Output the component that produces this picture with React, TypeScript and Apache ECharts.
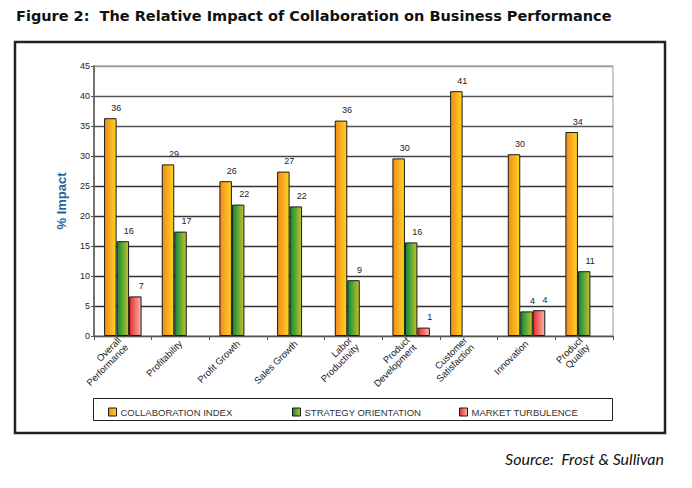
import React, { useEffect, useRef } from "react";
import * as echarts from "echarts";

const categories = [
  "Overall\nPerformance",
  "Profitability",
  "Profit Growth",
  "Sales Growth",
  "Labor\nProductivity",
  "Product\nDevelopment",
  "Customer\nSatisfaction",
  "Innovation",
  "Product\nQuality",
];
const collaborationIndex = [36.3, 28.6, 25.8, 27.4, 35.9, 29.6, 40.8, 30.3, 34.0];
const strategyOrientation = [15.8, 17.4, 21.9, 21.6, 9.3, 15.6, null, 4.1, 10.8];
const marketTurbulence = [6.6, null, null, null, null, 1.4, null, 4.3, null];
const yTicks = [0, 45, 5];

const FONT = "'Liberation Sans', Arial, sans-serif";

export default function App() {
  const ref = useRef<HTMLDivElement>(null);
  useEffect(() => {
    if (!ref.current) return;
    const chart = echarts.init(ref.current, null, { renderer: "svg" });
    const grad = (a: string, b: string) =>
      new echarts.graphic.LinearGradient(0, 0, 1, 0, [
        { offset: 0, color: a },
        { offset: 1, color: b },
      ]);
    const orange = grad("#F28A1E", "#FFD420");
    const green = grad("#078A3E", "#C4C42A");
    const red = grad("#E62E2E", "#FBB3AA");
    const labelCfg = {
      show: true,
      position: "top",
      offset: [6, -1],
      fontSize: 9,
      color: "#222",
      fontFamily: FONT,
      formatter: (p: any) => String(Math.round(p.value)),
    };
    const mkSeries = (name: string, data: any[], color: any) => ({
      name,
      type: "bar",
      data,
      barWidth: 12.5,
      barGap: "0%",
      itemStyle: { color, borderColor: "#1a1a1a", borderWidth: 1 },
      label: labelCfg,
    });
    const splitColors = ["#333", "#333", "#333", "#333", "#333", "#333", "#444", "#555", "#555", "#999"];
    const legendBase = {
      top: 402,
      itemWidth: 8,
      itemHeight: 8,
      icon: "rect",
      selectedMode: false,
      itemStyle: { borderColor: "#1a1a1a", borderWidth: 1 },
      textStyle: { fontSize: 9.5, color: "#333", fontFamily: FONT, padding: [0, 0, 0, -1] },
    };
    chart.setOption({
      animation: false,
      textStyle: { fontFamily: FONT },
      grid: {
        left: 94,
        right: 79,
        top: 66,
        bottom: 152,
        show: true,
        borderColor: "#999",
        borderWidth: 1,
      },
      legend: [
        { ...legendBase, left: 103, data: ["COLLABORATION INDEX"] },
        { ...legendBase, left: 287, data: ["STRATEGY ORIENTATION"] },
        { ...legendBase, left: 454, data: ["MARKET TURBULENCE"] },
      ],
      xAxis: {
        type: "category",
        data: categories,
        axisLine: { lineStyle: { color: "#555", width: 1 } },
        axisTick: { show: true, length: 4, lineStyle: { color: "#555" } },
        axisLabel: {
          interval: 0,
          rotate: 45,
          fontSize: 9.5,
          color: "#222",
          fontFamily: FONT,
          margin: 6,
          lineHeight: 10,
        },
      },
      yAxis: {
        type: "value",
        min: yTicks[0],
        max: yTicks[1],
        interval: yTicks[2],
        name: "% Impact",
        nameLocation: "middle",
        nameGap: 26,
        nameTextStyle: { fontSize: 13, fontWeight: "bold", color: "#1F64A5", fontFamily: FONT },
        axisLine: { show: true, lineStyle: { color: "#555", width: 1.5 } },
        axisTick: { show: true, length: 3, lineStyle: { color: "#555" } },
        axisLabel: { fontSize: 9, color: "#222", fontFamily: FONT, margin: 4 },
        splitLine: { show: true, lineStyle: { color: splitColors, width: 1.3 } },
      },
      series: [
        mkSeries("COLLABORATION INDEX", collaborationIndex, orange),
        mkSeries("STRATEGY ORIENTATION", strategyOrientation, green),
        mkSeries("MARKET TURBULENCE", marketTurbulence, red),
      ],
      graphic: [
        {
          type: "text",
          left: 16,
          top: 8,
          style: {
            text: "Figure 2:  The Relative Impact of Collaboration on Business Performance",
            fontSize: 14.5,
            fontWeight: "bold",
            fill: "#111",
            fontFamily: "'DejaVu Sans', sans-serif",
          },
        },
        {
          type: "rect",
          shape: { x: 15, y: 42, width: 650, height: 391 },
          style: { fill: "none", stroke: "#222", lineWidth: 2.5 },
          silent: true,
        },
        {
          type: "rect",
          shape: { x: 93.5, y: 398.5, width: 519, height: 22 },
          style: { fill: "none", stroke: "#222", lineWidth: 1 },
          silent: true,
        },
        {
          type: "text",
          right: 28,
          top: 450,
          style: {
            text: "Source:  Frost & Sullivan",
            fontSize: 16,
            fontStyle: "italic",
            fill: "#111",
            fontFamily: "Lato, sans-serif",
          },
        },
      ],
    });
    return () => chart.dispose();
  }, []);
  return (
    <div
      ref={ref}
      style={{ position: "absolute", left: 0, top: 0, width: 692, height: 488, background: "#fff" }}
    />
  );
}
